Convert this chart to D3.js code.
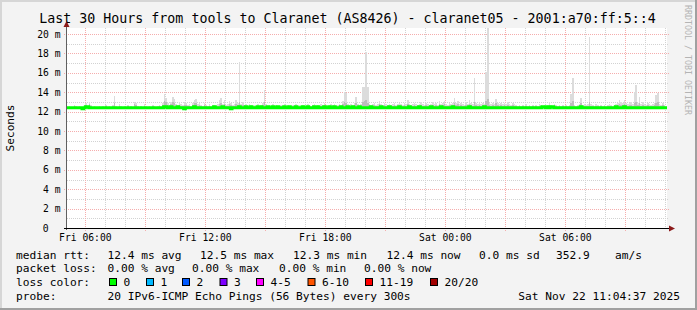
<!DOCTYPE html>
<html>
<head>
<meta charset="utf-8">
<script src="https://cdn.jsdelivr.net/npm/d3@7"></script>
<style>
  body { margin: 0; background: #f3f3f3; }
  svg text { font-family: "DejaVu Sans Mono", monospace; fill: #000; }
</style>
</head>
<body>
<svg id="chart" width="697" height="310"></svg>
<script>
// SmokePing style latency graph, 30 hours, 5 minute steps

var startTime = new Date(2025, 10, 21, 5, 5, 0);
var stepSeconds = 300;

// median rtt per step (ms)
var medianRtt = [
  12.4,12.4,12.4,12.4,12.4,12.4,12.4,12.4,12.4,12.3,12.4,12.5,12.5,12.4,12.4,12.4,12.4,12.4,12.4,12.4,
  12.4,12.4,12.4,12.4,12.4,12.4,12.4,12.4,12.4,12.4,12.4,12.4,12.4,12.4,12.4,12.4,12.4,12.4,12.4,12.4,
  12.4,12.4,12.4,12.4,12.4,12.4,12.4,12.4,12.4,12.4,12.4,12.4,12.4,12.4,12.4,12.4,12.4,12.4,12.5,12.5,
  12.4,12.4,12.5,12.4,12.4,12.4,12.5,12.4,12.4,12.4,12.3,12.4,12.4,12.4,12.4,12.4,12.5,12.4,12.4,12.4,
  12.4,12.4,12.4,12.4,12.4,12.4,12.4,12.4,12.5,12.4,12.4,12.4,12.4,12.5,12.4,12.4,12.4,12.4,12.3,12.4,
  12.4,12.4,12.4,12.5,12.4,12.4,12.4,12.5,12.4,12.4,12.5,12.4,12.4,12.4,12.5,12.4,12.5,12.4,12.4,12.4,
  12.5,12.4,12.4,12.5,12.4,12.4,12.5,12.4,12.4,12.4,12.5,12.4,12.4,12.5,12.4,12.4,12.4,12.5,12.4,12.4,
  12.4,12.5,12.4,12.4,12.5,12.4,12.4,12.4,12.5,12.4,12.5,12.4,12.4,12.4,12.5,12.4,12.4,12.5,12.4,12.4,
  12.5,12.4,12.4,12.4,12.5,12.4,12.4,12.4,12.5,12.4,12.4,12.5,12.4,12.4,12.4,12.5,12.4,12.4,12.4,12.4,
  12.4,12.4,12.5,12.4,12.4,12.4,12.4,12.4,12.5,12.4,12.4,12.4,12.4,12.5,12.4,12.4,12.4,12.4,12.4,12.5,
  12.4,12.4,12.4,12.4,12.4,12.5,12.4,12.4,12.4,12.4,12.4,12.5,12.4,12.4,12.4,12.4,12.4,12.4,12.5,12.4,
  12.4,12.4,12.4,12.4,12.5,12.4,12.4,12.4,12.4,12.4,12.4,12.5,12.4,12.4,12.4,12.4,12.4,12.4,12.4,12.4,
  12.4,12.5,12.4,12.4,12.4,12.4,12.4,12.4,12.4,12.4,12.5,12.4,12.4,12.4,12.4,12.4,12.4,12.4,12.4,12.4,
  12.4,12.4,12.4,12.4,12.4,12.4,12.4,12.4,12.4,12.4,12.4,12.4,12.4,12.4,12.4,12.4,12.4,12.4,12.4,12.4,
  12.4,12.4,12.4,12.4,12.4,12.5,12.5,12.4,12.5,12.4,12.5,12.5,12.4,12.4,12.4,12.4,12.4,12.4,12.4,12.4,
  12.4,12.4,12.4,12.4,12.4,12.4,12.4,12.4,12.5,12.4,12.4,12.4,12.4,12.4,12.4,12.4,12.4,12.4,12.4,12.4,
  12.4,12.4,12.4,12.4,12.4,12.4,12.4,12.4,12.4,12.5,12.4,12.4,12.4,12.4,12.5,12.4,12.4,12.4,12.4,12.4,
  12.4,12.4,12.4,12.4,12.4,12.4,12.4,12.4,12.4,12.4,12.4,12.4,12.4,12.4,12.4,12.4,12.4,12.4,12.4,12.4
];

// inner (dense) smoke top per step (ms)
var smokeMid = [
  12.5,12.5,12.5,12.5,12.6,12.5,12.5,12.5,12.5,12.5,12.5,12.7,12.5,12.8,12.6,12.5,12.5,12.5,12.5,12.5,
  12.5,12.5,12.5,12.6,12.5,12.5,12.5,12.6,12.9,12.5,12.5,12.6,12.5,12.5,12.5,12.5,12.6,12.5,12.5,12.5,
  12.8,12.7,12.5,12.5,12.5,12.5,12.6,12.5,12.5,12.5,12.5,12.6,12.5,12.5,12.5,12.6,12.5,12.7,13.1,13.0,
  12.7,12.6,12.8,13.0,12.9,12.6,12.6,12.7,12.6,12.6,12.7,12.7,12.6,12.6,12.5,12.7,12.9,12.9,12.6,12.7,
  12.6,12.5,12.7,12.6,12.5,12.6,12.5,12.6,12.6,12.5,12.6,12.8,12.9,12.6,12.8,12.6,12.6,12.8,12.7,12.6,
  12.6,12.8,12.7,13.0,12.6,12.7,12.6,12.6,12.5,12.6,12.6,12.5,12.6,12.5,12.6,12.5,12.6,12.7,13.0,12.6,
  12.5,12.6,12.5,12.6,12.5,12.6,12.5,12.5,12.6,12.5,12.6,12.5,12.6,12.5,12.5,12.6,12.5,12.6,12.5,12.6,
  12.5,12.6,12.5,12.5,12.6,12.6,12.5,12.6,12.6,12.5,12.6,12.5,12.6,12.6,12.7,12.6,12.5,12.6,12.6,12.6,
  12.6,12.5,12.6,12.6,12.6,12.8,13.0,12.9,12.6,12.6,12.6,12.6,12.7,12.9,12.6,12.6,12.6,13.0,13.1,13.2,
  12.9,12.6,12.6,12.6,12.7,12.6,12.6,12.8,12.6,12.6,12.7,12.6,12.6,12.6,12.6,12.6,12.7,12.6,12.6,12.7,
  12.6,12.6,12.7,12.6,12.8,12.6,12.6,12.6,12.7,12.6,12.6,12.6,12.7,12.6,12.6,12.7,12.6,12.6,12.6,12.7,
  12.6,12.7,12.6,12.8,12.6,12.7,12.8,12.6,12.6,12.7,12.6,12.7,12.9,12.7,12.8,12.6,12.7,12.6,12.6,12.7,
  12.6,12.8,12.7,12.6,13.0,12.7,12.6,12.7,12.6,12.7,12.6,13.1,13.3,12.7,12.6,12.7,12.6,12.9,12.7,12.6,
  12.7,12.6,12.7,12.6,12.7,12.6,12.6,12.7,12.6,12.6,12.5,12.6,12.5,12.6,12.5,12.6,12.5,12.6,12.5,12.6,
  12.5,12.6,12.5,12.6,12.6,12.5,12.6,12.5,12.6,12.7,12.6,12.5,12.6,12.6,12.5,12.6,12.5,12.6,12.5,12.6,
  12.5,12.6,12.9,13.1,12.6,12.5,12.6,12.6,12.9,12.6,12.6,12.6,12.6,13.0,12.6,12.6,12.5,12.6,12.6,12.5,
  12.6,12.5,12.6,12.5,12.6,12.6,12.6,12.5,12.6,12.6,12.7,12.8,12.7,12.7,12.8,12.7,12.6,12.7,12.7,12.6,
  12.9,13.0,12.7,12.9,12.6,12.7,12.6,12.6,12.7,12.6,12.6,12.6,12.7,12.9,13.0,12.6,12.6,12.7,12.6,12.5
];

// highest ping per step (ms)
var smokeMax = [
  12.5,12.6,12.5,12.5,12.7,12.6,12.5,12.6,12.5,12.5,12.6,12.9,12.6,13.0,12.7,12.5,12.6,12.5,12.5,12.6,
  12.5,12.6,12.5,12.7,12.5,12.6,12.5,12.7,13.6,12.6,12.5,12.8,12.6,12.5,12.6,12.5,12.7,12.5,12.6,12.5,
  13.0,12.9,12.6,12.5,12.6,12.5,12.8,12.6,12.5,12.6,12.5,12.7,12.6,12.5,12.6,12.7,12.6,12.9,13.8,13.4,
  12.9,12.7,13.0,13.5,13.3,12.8,12.7,13.0,12.8,12.7,13.0,12.9,12.7,12.8,12.6,12.9,13.2,13.3,12.8,12.9,
  12.7,12.6,12.9,12.7,12.6,12.8,12.6,12.7,12.7,12.6,12.8,13.2,13.4,12.8,13.2,12.7,12.8,13.1,12.9,12.7,
  12.8,13.2,12.9,17.1,12.8,13.0,12.7,12.8,12.6,12.8,12.7,12.6,12.7,12.6,12.8,12.6,12.7,12.9,14.2,12.8,
  12.6,12.7,12.6,12.8,12.6,12.7,12.6,12.6,12.7,12.6,12.8,12.6,12.7,12.6,12.6,12.7,12.6,12.8,12.6,12.7,
  12.6,12.7,12.6,12.6,12.8,12.7,12.6,12.7,12.8,12.6,12.7,12.6,12.8,12.7,12.9,12.7,12.6,12.7,12.8,12.7,
  12.8,12.6,12.7,12.8,12.7,13.1,14.0,13.9,12.8,12.7,12.8,12.7,12.9,13.5,12.8,12.7,12.8,14.5,14.5,18.1,
  14.5,12.8,12.7,12.8,12.9,12.7,12.8,13.1,12.8,12.7,12.9,12.8,12.7,12.8,12.7,12.8,12.9,12.7,12.8,12.9,
  12.8,12.7,12.9,12.8,13.2,12.8,12.7,12.8,12.9,12.8,12.7,12.8,13.0,12.8,12.7,12.9,12.8,12.7,12.8,13.0,
  12.8,12.9,12.7,13.1,12.8,12.9,13.1,12.8,12.7,12.9,12.8,12.9,13.4,12.9,13.1,12.8,12.9,12.8,12.7,13.0,
  12.8,13.2,12.9,12.8,15.5,12.9,12.8,13.0,12.8,12.9,12.8,16.1,20.6,12.9,12.8,12.9,12.8,13.3,12.9,12.8,
  12.9,12.8,12.9,12.8,13.0,12.8,12.7,12.9,12.8,12.7,12.6,12.7,12.6,12.7,12.6,12.8,12.6,12.7,12.6,12.7,
  12.6,12.7,12.6,12.8,12.7,12.6,12.7,12.6,12.7,13.0,12.7,12.6,12.8,12.7,12.6,12.7,12.6,12.7,12.6,12.7,
  12.6,12.7,13.8,15.5,12.7,12.6,12.7,12.8,13.4,12.7,12.8,12.7,12.8,19.7,12.8,12.7,12.6,12.8,12.7,12.6,
  12.7,12.6,12.7,12.6,12.7,12.8,12.7,12.6,12.7,12.8,12.9,13.2,13.0,12.9,13.2,12.9,12.8,12.9,13.0,12.8,
  14.0,14.7,12.9,13.5,12.8,13.0,12.8,12.7,12.9,12.8,12.7,12.8,12.9,13.7,13.9,12.8,12.7,12.9,12.7,12.6
];

var titleText = "Last 30 Hours from tools to Claranet (AS8426) - claranet05 - 2001:a70:ff:5::4";
var rttStats = ["12.4 ms avg", "12.5 ms max", "12.3 ms min", "12.4 ms now", "0.0 ms sd", "352.9", "am/s"];
var lossStats = ["0.00 % avg", "0.00 % max", "0.00 % min", "0.00 % now"];
var lossLabels = ["0", "1", "2", "3", "4-5", "6-10", "11-19", "20/20"];
var lossColors = ["#00ff00", "#00b8ff", "#0059ff", "#7e00ff", "#ff00ff", "#ff5500", "#ff0000", "#a10000"];
var probeText = "20 IPv6-ICMP Echo Pings (56 Bytes) every 300s";
var stampText = "Sat Nov 22 11:04:37 2025";

// Layout of the rrdtool canvas
var width = 697, height = 310;
var plotLeft = 67, plotRight = 667, plotTop = 28, plotBottom = 228;
var yMax = 20.62;
var endTime = new Date(+startTime + medianRtt.length * stepSeconds * 1000);

var svg = d3.select("#chart");

var x = d3.scaleTime().domain([startTime, endTime]).range([plotLeft, plotRight]);
var y = d3.scaleLinear().domain([0, yMax]).range([plotBottom, plotTop]);

// Background and 3d frame
svg.append("rect").attr("width", width).attr("height", height).attr("fill", "#f3f3f3");
svg.append("rect").attr("x", 0).attr("y", 0).attr("width", width).attr("height", 2).attr("fill", "#d6d6d6");
svg.append("rect").attr("x", 0).attr("y", 0).attr("width", 2).attr("height", height).attr("fill", "#d6d6d6");
svg.append("rect").attr("x", width - 2).attr("y", 0).attr("width", 2).attr("height", height).attr("fill", "#a0a0a0");
svg.append("rect").attr("x", 0).attr("y", height - 2).attr("width", width).attr("height", 2).attr("fill", "#a0a0a0");

// Canvas
svg.append("rect")
  .attr("x", plotLeft).attr("y", plotTop)
  .attr("width", plotRight - plotLeft).attr("height", plotBottom - plotTop)
  .attr("fill", "#ffffff");

// Grid lines
var grid = svg.append("g").attr("shape-rendering", "crispEdges");

var minorY = d3.range(1, 21, 2);
var majorY = d3.range(0, 21, 2);

grid.selectAll("line.ymin")
  .data(minorY)
  .enter()
  .append("line")
  .attr("x1", plotLeft).attr("x2", plotRight + 2)
  .attr("y1", function(d) { return Math.round(y(d)) + 0.5; })
  .attr("y2", function(d) { return Math.round(y(d)) + 0.5; })
  .attr("stroke", "#d2d2d2")
  .attr("stroke-dasharray", "1,1");

var minorX = x.ticks(d3.timeHour.every(1)).filter(function(d) { return d.getHours() % 3 != 0; });
var majorX = x.ticks(d3.timeHour.every(3));

grid.selectAll("line.xmin")
  .data(minorX)
  .enter()
  .append("line")
  .attr("x1", function(d) { return Math.round(x(d)) + 0.5; })
  .attr("x2", function(d) { return Math.round(x(d)) + 0.5; })
  .attr("y1", plotTop).attr("y2", plotBottom + 1)
  .attr("stroke", "#d2d2d2")
  .attr("stroke-dasharray", "1,1");

grid.selectAll("line.ymaj")
  .data(majorY)
  .enter()
  .append("line")
  .attr("x1", plotLeft - 3).attr("x2", plotRight + 2)
  .attr("y1", function(d) { return Math.round(y(d)) + 0.5; })
  .attr("y2", function(d) { return Math.round(y(d)) + 0.5; })
  .attr("stroke", "#f5adad")
  .attr("stroke-dasharray", "1,1");

grid.selectAll("line.xmaj")
  .data(majorX)
  .enter()
  .append("line")
  .attr("x1", function(d) { return Math.round(x(d)) + 0.5; })
  .attr("x2", function(d) { return Math.round(x(d)) + 0.5; })
  .attr("y1", plotTop).attr("y2", plotBottom + 3)
  .attr("stroke", "#f5adad")
  .attr("stroke-dasharray", "1,1");

// Build step points, last value repeated at the end time
var points = medianRtt.map(function(d, i) {
  return { t: new Date(+startTime + i * stepSeconds * 1000), med: d, mid: smokeMid[i], max: smokeMax[i] };
});
var last = points[points.length - 1];
points.push({ t: endTime, med: last.med, mid: last.mid, max: last.max });

// Smoke
var smokeOuter = d3.area()
  .curve(d3.curveStepAfter)
  .x(function(d) { return x(d.t); })
  .y0(function(d) { return y(d.med - 0.1); })
  .y1(function(d) { return y(d.max); });

var smokeInner = d3.area()
  .curve(d3.curveStepAfter)
  .x(function(d) { return x(d.t); })
  .y0(function(d) { return y(d.med - 0.05); })
  .y1(function(d) { return y(d.mid); });

svg.append("path").datum(points)
  .attr("d", smokeOuter)
  .attr("fill", "#dcdcdc")
  .attr("shape-rendering", "crispEdges");

svg.append("path").datum(points)
  .attr("d", smokeInner)
  .attr("fill", "#bdbdbd")
  .attr("shape-rendering", "crispEdges");

// Median line, coloured by loss (all 0 loss here)
var medLine = d3.line()
  .curve(d3.curveStepAfter)
  .x(function(d) { return x(d.t); })
  .y(function(d) { return y(d.med); });

svg.append("path").datum(points)
  .attr("d", medLine)
  .attr("fill", "none")
  .attr("stroke", lossColors[0])
  .attr("stroke-width", 3);

// Axes
svg.append("line")
  .attr("x1", plotLeft - 0.5).attr("x2", plotLeft - 0.5)
  .attr("y1", plotTop - 2).attr("y2", plotBottom + 2)
  .attr("stroke", "#606060");
svg.append("line")
  .attr("x1", plotLeft - 3).attr("x2", plotRight + 3)
  .attr("y1", plotBottom + 0.5).attr("y2", plotBottom + 0.5)
  .attr("stroke", "#000000");

svg.append("path")
  .attr("d", "M" + (plotLeft - 3.5) + "," + (plotTop - 1) + "L" + (plotLeft - 0.5) + "," + (plotTop - 7) + "L" + (plotLeft + 2.5) + "," + (plotTop - 1) + "Z")
  .attr("fill", "#8b1a1a");
svg.append("path")
  .attr("d", "M" + (plotRight + 2) + "," + (plotBottom - 2.5) + "L" + (plotRight + 8) + "," + (plotBottom + 0.5) + "L" + (plotRight + 2) + "," + (plotBottom + 3.5) + "Z")
  .attr("fill", "#8b1a1a");

// Y tick labels
svg.selectAll("text.ylab")
  .data(majorY)
  .enter()
  .append("text")
  .attr("x", function(d) { return d == 0 ? 48.5 : 60.5; })
  .attr("y", function(d) { return y(d) + 3.5; })
  .attr("text-anchor", "end")
  .attr("font-size", "9.7px")
  .text(function(d) { return d == 0 ? "0" : d + " m"; });

// X tick labels
var timeFmt = d3.timeFormat("%a %H:%M");
svg.selectAll("text.xlab")
  .data(x.ticks(d3.timeHour.every(6)))
  .enter()
  .append("text")
  .attr("x", function(d) { return x(d); })
  .attr("y", plotBottom + 13)
  .attr("text-anchor", "middle")
  .attr("font-size", "9.7px")
  .text(function(d) { return timeFmt(d); });

// Title, y label, watermark
svg.append("text")
  .attr("x", 347.5).attr("y", 23)
  .attr("text-anchor", "middle")
  .attr("font-size", "13.3px")
  .text(titleText);

svg.append("text")
  .attr("transform", "translate(14,128) rotate(-90)")
  .attr("text-anchor", "middle")
  .attr("font-size", "11.2px")
  .text("Seconds");

svg.append("text")
  .attr("transform", "translate(685,5) rotate(90)")
  .attr("font-size", "8.3px")
  .style("fill", "#b4b4b4")
  .text("RRDTOOL / TOBI OETIKER");

// Legend
var legendFont = "11.2px";
var rows = [258.5, 272.3, 286.2, 300];
var rttX = [107.5, 200, 293, 386.5, 479, 556, 615];
var lossX = [107.5, 192, 279, 364];
var boxX = [109, 146, 182, 219.5, 256, 307.5, 365, 430];

function legendText(tx, ty, s) {
  svg.append("text")
    .attr("x", tx).attr("y", ty)
    .attr("font-size", legendFont)
    .text(s);
}

legendText(16, rows[0], "median rtt:");
rttStats.forEach(function(s, i) { legendText(rttX[i], rows[0], s); });

legendText(16, rows[1], "packet loss:");
lossStats.forEach(function(s, i) { legendText(lossX[i], rows[1], s); });

legendText(16, rows[2], "loss color:");
svg.selectAll("rect.lossbox")
  .data(lossColors)
  .enter()
  .append("rect")
  .attr("x", function(d, i) { return boxX[i] + 0.5; })
  .attr("y", 278.5)
  .attr("width", 7)
  .attr("height", 7)
  .attr("fill", function(d) { return d; })
  .attr("stroke", "#000");
lossLabels.forEach(function(s, i) { legendText(boxX[i] + 14.5, rows[2], s); });

legendText(16, rows[3], "probe:");
legendText(107.5, rows[3], probeText);
svg.append("text")
  .attr("x", 680).attr("y", rows[3])
  .attr("text-anchor", "end")
  .attr("font-size", legendFont)
  .text(stampText);
</script>
</body>
</html>
